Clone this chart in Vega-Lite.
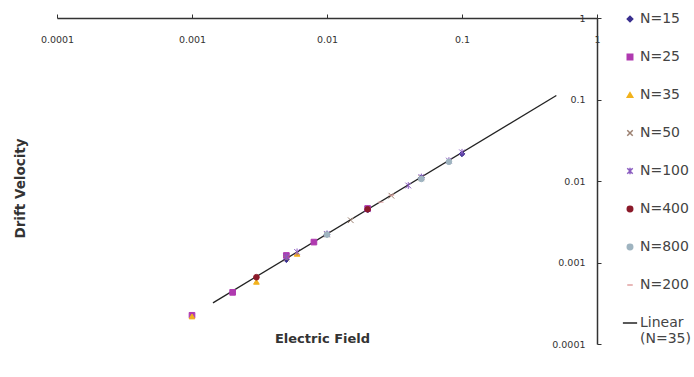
{
  "$schema": "https://vega.github.io/schema/vega-lite/v6.json",
  "width": 540,
  "height": 326,
  "autosize": {"type": "none"},
  "padding": {"left": 57, "top": 18, "right": 97, "bottom": 33},
  "background": "white",
  "config": {
    "view": {"stroke": null},
    "font": "DejaVu Sans"
  },
  "datasets": {
    "pts": [
      {"series": "N=15", "E": 0.005, "v": 0.00108},
      {"series": "N=15", "E": 0.01, "v": 0.00222},
      {"series": "N=15", "E": 0.02, "v": 0.0044},
      {"series": "N=15", "E": 0.05, "v": 0.011},
      {"series": "N=15", "E": 0.1, "v": 0.0215},
      {"series": "N=25", "E": 0.001, "v": 0.000225},
      {"series": "N=25", "E": 0.002, "v": 0.00043},
      {"series": "N=25", "E": 0.005, "v": 0.00122},
      {"series": "N=25", "E": 0.008, "v": 0.00178},
      {"series": "N=25", "E": 0.02, "v": 0.0046},
      {"series": "N=35", "E": 0.001, "v": 0.000218},
      {"series": "N=35", "E": 0.003, "v": 0.00058},
      {"series": "N=35", "E": 0.006, "v": 0.00128},
      {"series": "N=50", "E": 0.005, "v": 0.00112},
      {"series": "N=50", "E": 0.01, "v": 0.0022},
      {"series": "N=50", "E": 0.015, "v": 0.0033},
      {"series": "N=50", "E": 0.03, "v": 0.0066},
      {"series": "N=50", "E": 0.05, "v": 0.0108},
      {"series": "N=100", "E": 0.005, "v": 0.00118},
      {"series": "N=100", "E": 0.006, "v": 0.00135},
      {"series": "N=100", "E": 0.01, "v": 0.00225},
      {"series": "N=100", "E": 0.02, "v": 0.0045},
      {"series": "N=100", "E": 0.04, "v": 0.0088},
      {"series": "N=100", "E": 0.05, "v": 0.0112},
      {"series": "N=100", "E": 0.08, "v": 0.0178},
      {"series": "N=100", "E": 0.1, "v": 0.0225},
      {"series": "N=400", "E": 0.003, "v": 0.00066},
      {"series": "N=400", "E": 0.02, "v": 0.0045},
      {"series": "N=800", "E": 0.01, "v": 0.0022},
      {"series": "N=800", "E": 0.05, "v": 0.0106},
      {"series": "N=800", "E": 0.08, "v": 0.0172},
      {"series": "N=200", "E": 0.025, "v": 0.0055},
      {"series": "N=200", "E": 0.03, "v": 0.0067}
    ],
    "fit": [
      {"series": "Linear (N=35)", "E": 0.00143, "v": 0.00032},
      {"series": "Linear (N=35)", "E": 0.5, "v": 0.112}
    ]
  },
  "layer": [
    {
      "data": {"name": "fit"},
      "mark": {"type": "line", "strokeWidth": 1.3},
      "encoding": {
        "x": {"field": "E", "type": "quantitative"},
        "y": {"field": "v", "type": "quantitative"},
        "color": {"field": "series", "type": "nominal"}
      }
    },
    {
      "data": {"name": "pts"},
      "mark": {"type": "point", "filled": true, "size": 32, "strokeWidth": 1, "opacity": 1},
      "encoding": {
        "x": {"field": "E", "type": "quantitative"},
        "y": {"field": "v", "type": "quantitative"},
        "color": {"field": "series", "type": "nominal"},
        "shape": {
          "field": "series", "type": "nominal",
          "scale": {
            "domain": ["N=15", "N=25", "N=35", "N=50", "N=100", "N=400", "N=800", "N=200", "Linear (N=35)"],
            "range": ["diamond", "square", "triangle-up", "M-1,-1L1,1M-1,1L1,-1", "M-1,-1L1,1M-1,1L1,-1M0,-1.2L0,1.2", "circle", "circle", "M-1,0L1,0", "M-2.6,0L2.6,0"]
          }
        },
        "stroke": {
          "field": "series", "type": "nominal",
          "scale": {
            "domain": ["N=15", "N=25", "N=35", "N=50", "N=100", "N=400", "N=800", "N=200", "Linear (N=35)"],
            "range": ["#3a2f8f", "#b03ab0", "#f2b21c", "#9c8070", "#8a5cc0", "#8b1a2a", "#9fb4c0", "#e0a0a0", "#222222"]
          }
        }
      }
    }
  ],
  "encoding": {
    "x": {
      "field": "E", "type": "quantitative",
      "scale": {"type": "log", "domain": [0.0001, 1], "nice": false},
      "axis": {
        "orient": "top", "title": "Electric Field", "grid": false,
        "values": [0.0001, 0.001, 0.01, 0.1, 1],
        "labelExpr": "datum.value >= 1 ? '1' : format(datum.value, '~g')",
        "labelFlush": false, "labelOverlap": false,
        "labelPadding": -30, "labelFontSize": 9.5, "labelColor": "#333",
        "tickSize": 4, "tickColor": "#333", "domainColor": "#333", "domainWidth": 1.5,
        "titleY": 327, "titleX": 265, "titleFontSize": 13, "titleFontWeight": "bold", "titleColor": "#333"
      }
    },
    "y": {
      "field": "v", "type": "quantitative",
      "scale": {"type": "log", "domain": [0.0001, 1], "nice": false},
      "axis": {
        "orient": "right", "title": "Drift Velocity", "grid": false,
        "values": [0.0001, 0.001, 0.01, 0.1, 1],
        "labelExpr": "datum.value >= 1 ? '1' : format(datum.value, '~g')",
        "labelFlush": false, "labelOverlap": false,
        "labelAlign": "right", "labelPadding": -16, "labelFontSize": 9.5, "labelColor": "#333",
        "tickSize": 4, "tickColor": "#333", "domainColor": "#333", "domainWidth": 1.5,
        "titleX": -577, "titleY": 170, "titleAngle": 270, "titleBaseline": "middle", "titleAlign": "center",
        "titleFontSize": 13.5, "titleFontWeight": "bold", "titleColor": "#333"
      }
    },
    "color": {
      "field": "series", "type": "nominal",
      "scale": {
        "domain": ["N=15", "N=25", "N=35", "N=50", "N=100", "N=400", "N=800", "N=200", "Linear (N=35)"],
        "range": ["#3a2f8f", "#b03ab0", "#f2b21c", "#9c8070", "#8a5cc0", "#8b1a2a", "#9fb4c0", "#e0a0a0", "#222222"]
      },
      "legend": {
        "title": null, "orient": "none", "legendX": 566, "legendY": -6,
        "labelFontSize": 14, "labelColor": "#444", "rowPadding": 24, "padding": 0,
        "symbolSize": 30, "labelOffset": 3,
        "labelExpr": "datum.label == 'Linear (N=35)' ? ['Linear', '(N=35)'] : datum.label"
      }
    }
  }
}
